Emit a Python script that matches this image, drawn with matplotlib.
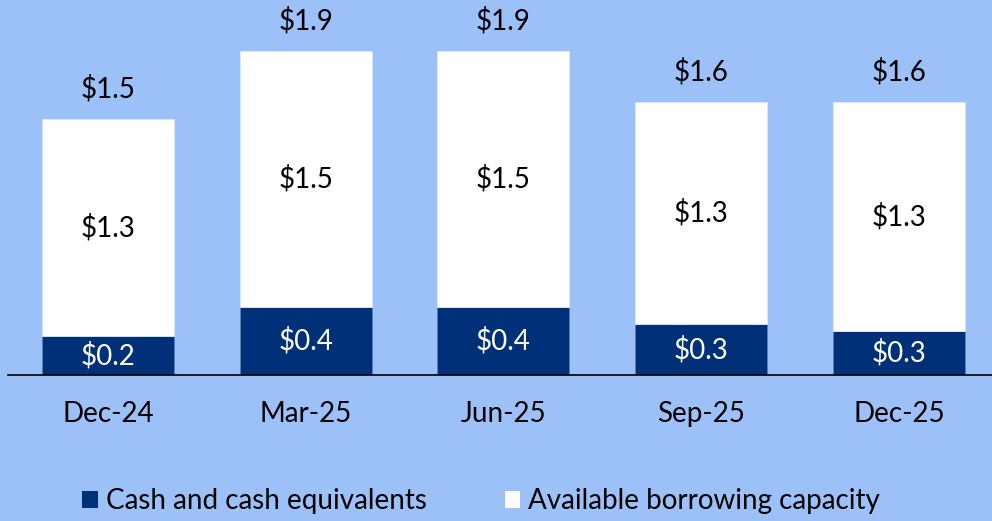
import numpy as np
import matplotlib.pyplot as plt
from matplotlib.patches import Patch

# data (US$ billions)
periods = ["Dec-24", "Mar-25", "Jun-25", "Sep-25", "Dec-25"]
cash = [0.23, 0.40, 0.40, 0.30, 0.26]
capacity = [1.27, 1.50, 1.50, 1.30, 1.34]

bg = "#9cc1f8"
navy = "#003178"
plt.rcParams["font.family"] = ["Lato", "DejaVu Sans"]

cash = np.array(cash)
capacity = np.array(capacity)
totals = cash + capacity
x = np.arange(len(periods))

fig = plt.figure(figsize=(9.92, 5.21), dpi=100)
fig.patch.set_facecolor(bg)
ax = fig.add_axes([8 / 992, 146 / 521, 1 - 8 / 992, 375 / 521])
ax.set_facecolor(bg)

w = 0.667
ax.bar(x, cash, w, color=navy, edgecolor="#5a7fb8", linewidth=0.6, zorder=2)
ax.bar(x, capacity, w, bottom=cash, color="white", edgecolor="#dce8fb", linewidth=0.6, zorder=2)

fs = 20
for i in range(len(x)):
    ax.text(x[i], cash[i] / 2, f"${cash[i]:.1f}", ha="center", va="center",
            color="white", fontsize=fs, zorder=3)
    ax.text(x[i], cash[i] + capacity[i] / 2, f"${capacity[i]:.1f}", ha="center",
            va="center", color="black", fontsize=fs, zorder=3)
    ax.annotate(f"${totals[i]:.1f}", (x[i], totals[i]), xytext=(0, 22),
                textcoords="offset points", ha="center", va="center",
                color="black", fontsize=fs)

ax.set_xlim(-0.505, 4.47)
ax.set_ylim(0, 2.2)
ax.set_xticks(x)
ax.set_xticklabels(periods, fontsize=fs)
ax.tick_params(axis="x", length=0, pad=19)
ax.set_yticks([])
for s in ["top", "right", "left"]:
    ax.spines[s].set_visible(False)
ax.spines["bottom"].set_linewidth(1.2)
ax.spines["bottom"].set_color("black")

handles = [Patch(facecolor=navy, label="Cash and cash equivalents"),
           Patch(facecolor="white", label="Available borrowing capacity")]
fig.legend(handles=handles, loc="center", bbox_to_anchor=(0.485, 0.038), ncol=2,
           frameon=False, fontsize=fs, handlelength=0.55, handleheight=0.55,
           handletextpad=0.3, columnspacing=2.8)

fig.savefig("out.png", dpi=100, facecolor=bg)
